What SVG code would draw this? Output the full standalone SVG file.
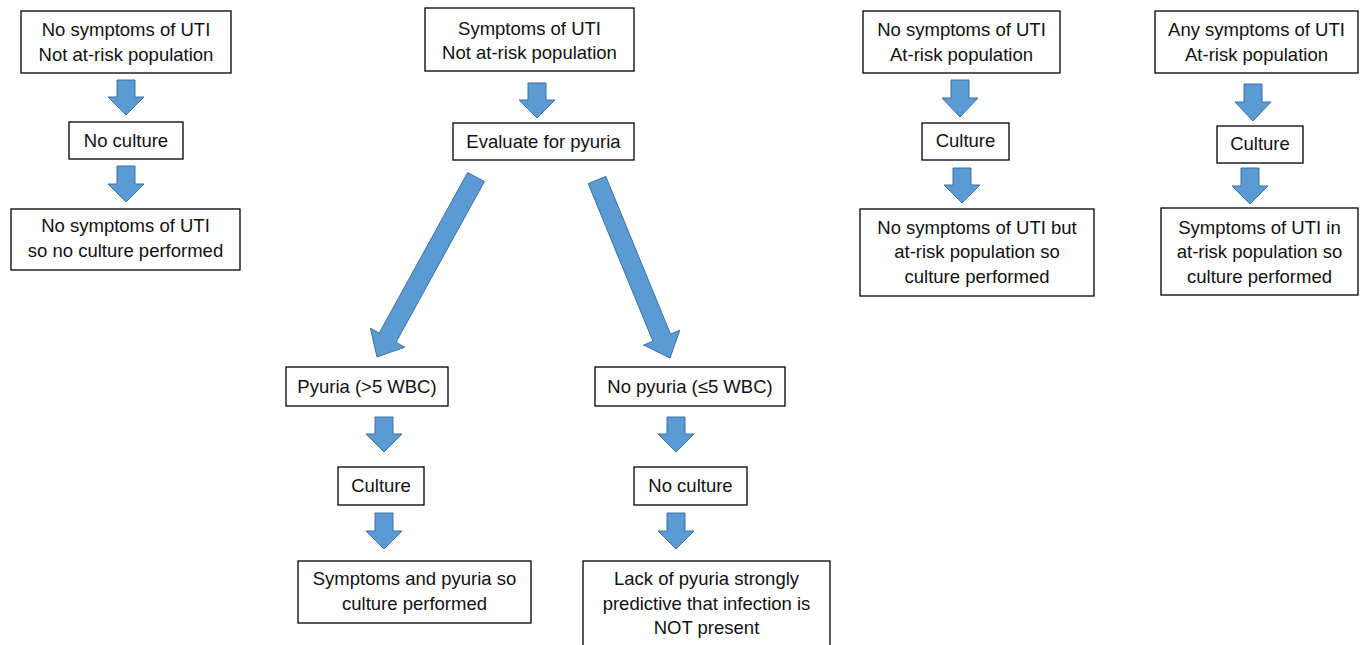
<svg xmlns="http://www.w3.org/2000/svg" width="1366" height="645" viewBox="0 0 1366 645">
<style>
.box{fill:#fff;stroke:#000;stroke-width:1.3}
.t{font-family:"Liberation Sans",Arial,sans-serif;font-size:18.5px;fill:#111;text-anchor:middle}
.arr{fill:#5B9BD5;stroke:#41719C;stroke-width:1}
</style>
<rect width="1366" height="645" fill="#fff"/>
<g id="connectors">
<path class="arr" d="M117,80 H135 V97 H144 L126,115 L108,97 H117 Z"/>
<path class="arr" d="M117,166 H135 V184 H144 L126,202 L108,184 H117 Z"/>
<path class="arr" d="M528,83 H546 V100 H555 L537,118 L519,100 H528 Z"/>
<path class="arr" d="M467.6,172.5 L484.4,181.5 L396.0,342.3 L404.8,347.2 L377,357 L370.4,328.2 L379.2,333.1 Z"/>
<path class="arr" d="M588.2,183.6 L605.8,176.4 L670.5,334.0 L679.8,330.2 L670,358 L643.6,345.0 L652.9,341.2 Z"/>
<path class="arr" d="M375,417 H393 V434 H402 L384,452 L366,434 H375 Z"/>
<path class="arr" d="M375,513 H393 V531 H402 L384,549 L366,531 H375 Z"/>
<path class="arr" d="M667,417 H685 V434 H694 L676,452 L658,434 H667 Z"/>
<path class="arr" d="M667,513 H685 V531 H694 L676,549 L658,531 H667 Z"/>
<path class="arr" d="M951,80 H969 V98 H978 L960,117 L942,98 H951 Z"/>
<path class="arr" d="M953,168 H971 V185 H980 L962,203 L944,185 H953 Z"/>
<path class="arr" d="M1244,84 H1262 V102 H1271 L1253,121 L1235,102 H1244 Z"/>
<path class="arr" d="M1241,168 H1259 V186 H1268 L1250,204 L1232,186 H1241 Z"/>
</g>
<g id="a1"><rect class="box" x="21" y="11" width="210" height="62"/><text class="t" x="126" y="36">No symptoms of UTI</text><text class="t" x="126" y="61">Not at-risk population</text></g>
<g id="a2"><rect class="box" x="69" y="122" width="114" height="37"/><text class="t" x="126" y="147">No culture</text></g>
<g id="a3"><rect class="box" x="11" y="209" width="229" height="61"/><text class="t" x="125.5" y="232">No symptoms of UTI</text><text class="t" x="125.5" y="257">so no culture performed</text></g>
<g id="b1"><rect class="box" x="425" y="8" width="209" height="63"/><text class="t" x="529.5" y="35">Symptoms of UTI</text><text class="t" x="529.5" y="59">Not at-risk population</text></g>
<g id="b2"><rect class="box" x="453" y="123" width="181" height="37"/><text class="t" x="543.5" y="148">Evaluate for pyuria</text></g>
<g id="b3"><rect class="box" x="286" y="367" width="162" height="39"/><text class="t" x="367" y="393">Pyuria (&gt;5 WBC)</text></g>
<g id="b4"><rect class="box" x="595" y="367" width="190" height="39"/><text class="t" x="690" y="393">No pyuria (≤5 WBC)</text></g>
<g id="b5"><rect class="box" x="338" y="467" width="86" height="38"/><text class="t" x="381" y="492">Culture</text></g>
<g id="b6"><rect class="box" x="634" y="467" width="113" height="38"/><text class="t" x="690.5" y="492">No culture</text></g>
<g id="b7"><rect class="box" x="298" y="561" width="233" height="62"/><text class="t" x="414.5" y="585">Symptoms and pyuria so</text><text class="t" x="414.5" y="610">culture performed</text></g>
<g id="b8"><rect class="box" x="583" y="561" width="247" height="90"/><text class="t" x="706.5" y="585">Lack of pyuria strongly</text><text class="t" x="706.5" y="610">predictive that infection is</text><text class="t" x="706.5" y="634">NOT present</text></g>
<g id="c1"><rect class="box" x="863" y="11" width="197" height="62"/><text class="t" x="961.5" y="36">No symptoms of UTI</text><text class="t" x="961.5" y="61">At-risk population</text></g>
<g id="c2"><rect class="box" x="922" y="123" width="87" height="37"/><text class="t" x="965.5" y="147">Culture</text></g>
<g id="c3"><rect class="box" x="860" y="209" width="234" height="87"/><text class="t" x="977" y="234">No symptoms of UTI but</text><text class="t" x="977" y="258">at-risk population so</text><text class="t" x="977" y="283">culture performed</text></g>
<g id="d1"><rect class="box" x="1155" y="11" width="203" height="62"/><text class="t" x="1256.5" y="36">Any symptoms of UTI</text><text class="t" x="1256.5" y="61">At-risk population</text></g>
<g id="d2"><rect class="box" x="1217" y="126" width="86" height="37"/><text class="t" x="1260" y="150">Culture</text></g>
<g id="d3"><rect class="box" x="1161" y="208" width="197" height="87"/><text class="t" x="1259.5" y="234">Symptoms of UTI in</text><text class="t" x="1259.5" y="258">at-risk population so</text><text class="t" x="1259.5" y="283">culture performed</text></g>
</svg>
